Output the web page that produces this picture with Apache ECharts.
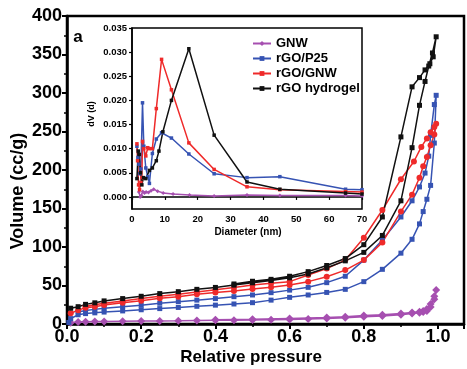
<!DOCTYPE html>
<html>
<head>
<meta charset="utf-8">
<script src="https://cdn.jsdelivr.net/npm/echarts@6/dist/echarts.min.js"></script>
<style>
  html, body { margin: 0; padding: 0; background: #fff; }
  #chart { width: 467px; height: 369px; }
</style>
</head>
<body>
<div id="chart"></div>
<script>
// ── isotherms (relative pressure -> volume, cc/g) ──────────────────────────
const gnwAdsP = [0.01,0.03,0.05,0.075,0.1,0.15,0.2,0.25,0.3,0.35,0.4,0.45,0.5,0.55,0.6,0.65,0.7,0.75,0.8,0.85,0.9,0.93,0.95,0.96,0.97,0.98,0.99,0.995];
const gnwAdsV = [1.5,2.5,3,3.2,3.4,3.6,3.8,4,4.2,4.5,4.8,5,5.3,5.6,6,6.5,7,8,9.5,10.5,12,13.5,14.5,15.5,17,22,32,44];
const gnwDesP = [0.99,0.98,0.97,0.96,0.95,0.93,0.9,0.85,0.8,0.75,0.7,0.6,0.5,0.4];
const gnwDesV = [36,26,19.5,17,16,15,13.5,12,11,9.5,8.5,7.3,6.2,5.5];

const p25AdsP = [0.005,0.01,0.03,0.05,0.075,0.1,0.15,0.2,0.25,0.3,0.35,0.4,0.45,0.5,0.55,0.6,0.65,0.7,0.75,0.8,0.85,0.9,0.93,0.95,0.96,0.97,0.98,0.99,0.995];
const p25AdsV = [2,7,12,13.5,14.5,15.5,17,18.5,20,21.5,23,24.5,26,27.7,31,34.6,37.7,41,45,55,71,92,110,130,146,162,180,235,297];
const p25DesP = [0.99,0.98,0.975,0.965,0.95,0.93,0.9,0.85,0.8,0.75,0.7,0.65,0.6,0.55,0.5,0.45,0.4,0.35,0.3,0.25,0.2,0.15,0.1,0.075,0.05,0.03];
const p25DesV = [285,245,218,196,178,160,139,109,83,62,53.7,47.6,44,40.7,37.7,35.5,33,31,29,27,24.5,22.5,20.5,19,17.5,15.5];

const rgnwAdsP = [0.01,0.03,0.05,0.075,0.1,0.15,0.2,0.25,0.3,0.35,0.4,0.45,0.5,0.55,0.6,0.65,0.7,0.75,0.8,0.85,0.9,0.93,0.95,0.96,0.97,0.98,0.99,0.995];
const rgnwAdsV = [14,18,21,22.5,24.7,27.7,30.3,33.3,35.5,38.5,41,43,45.5,47.6,50.6,55,61.4,70,83,106,146,168,190,205,217,232,246,260];
const rgnwDesP = [0.99,0.98,0.97,0.955,0.935,0.9,0.85,0.8,0.75,0.7,0.65,0.6,0.55,0.5,0.45,0.4,0.35,0.3,0.25,0.2,0.15,0.1,0.075,0.05];
const rgnwDesV = [256,249,241,230,211,188,148,112,83,72,63.6,55,52.8,50.6,47.5,44.5,41.5,38.5,36,33,30,27,25,23];

const hydAdsP = [0.01,0.03,0.05,0.075,0.1,0.15,0.2,0.25,0.3,0.35,0.4,0.45,0.5,0.55,0.6,0.65,0.7,0.75,0.8,0.85,0.9,0.93,0.95,0.965,0.975,0.985,0.995];
const hydAdsV = [20.5,22.5,25.5,27.5,30,33,36,39.5,42,45,47.5,50.5,53.5,56.5,60,65,73,82,93,115,160,229,284,315,335,352,373];
const hydDesP = [0.987,0.978,0.965,0.95,0.93,0.9,0.85,0.8,0.75,0.7,0.65,0.6,0.55,0.5,0.45];
const hydDesV = [347,338,330,320,308,243,139,103,85,76,68,62,58,55.5,52];

// ── pore size distribution inset (diameter nm -> dV) ───────────────────────
const gnwD  = [2.1,2.5,2.9,3.3,3.8,4.3,5.0,5.8,6.6,7.8,9.5,12.5,17.5,25,35,45,65,70];
const gnwDV = [0.0010,0.0000,0.0003,0.0011,0.0008,0.0010,0.0009,0.0013,0.0016,0.0012,0.0008,0.0006,0.0004,0.0002,0.0004,0.0003,0.0003,0.0002];
const p25D  = [1.5,1.8,2.1,2.4,2.7,3.2,3.6,4.2,4.8,5.3,6.2,7.4,9.0,12,17.3,25,35,45,65,70];
const p25DV = [0.0105,0.0082,0.0068,0.0048,0.0058,0.0195,0.0105,0.0060,0.0042,0.0028,0.0090,0.0120,0.0133,0.0122,0.0089,0.0048,0.0040,0.0042,0.0016,0.0015];
const rgnwD  = [1.5,1.7,2.0,2.3,2.7,3.0,3.2,3.6,4.2,4.8,5.3,6.2,7.4,9.0,12,17.3,25,35,45,65,70];
const rgnwDV = [0.0110,0.0075,0.0025,0.0015,0.0030,0.0040,0.0115,0.0100,0.0085,0.0102,0.0100,0.0100,0.0183,0.0285,0.0222,0.0112,0.0057,0.0021,0.0015,0.0011,0.0010];
const hydD  = [1.5,1.9,2.2,2.6,3.0,3.5,4.2,5.3,6.2,7.4,8.2,9.4,12,17.3,25,35,45,65,70];
const hydDV = [0.0038,0.0095,0.0088,0.0050,0.0025,0.0040,0.0038,0.0055,0.0060,0.0075,0.0095,0.0135,0.0200,0.0307,0.0128,0.0031,0.0016,0.0008,0.0006];

const names  = ['GNW', 'rGO/P25', 'rGO/GNW', 'rGO hydrogel'];
const colors = ['#a64fb0', '#3653b3', '#ef2a2a', '#111111'];
const insetYLabels = [0, 0.005, 0.01, 0.015, 0.02, 0.025, 0.03, 0.035];

const FONT = '"Liberation Sans", Arial, sans-serif';
const zip = (xs, ys) => xs.map((x, i) => [x, ys[i]]);
const loop = (ap, av, dp, dv) => zip(ap, av).concat(zip(dp, dv));

const mainData = [
  loop(gnwAdsP, gnwAdsV, gnwDesP, gnwDesV),
  loop(p25AdsP, p25AdsV, p25DesP, p25DesV),
  loop(rgnwAdsP, rgnwAdsV, rgnwDesP, rgnwDesV),
  loop(hydAdsP, hydAdsV, hydDesP, hydDesV),
];
const insetData = [zip(gnwD, gnwDV), zip(p25D, p25DV), zip(rgnwD, rgnwDV), zip(hydD, hydDV)];
const mainSymbols = [['diamond', 8], ['rect', 5], ['circle', 6], ['rect', 5]];
const insetSymbols = [['diamond', 4], ['rect', 3.5], ['rect', 3.5], ['rect', 3.5]];

const chart = echarts.init(document.getElementById('chart'), null, { renderer: 'canvas' });

const axisBase = (w) => ({
  axisLine: { lineStyle: { color: '#000', width: w } },
  axisTick: { inside: false, lineStyle: { color: '#000', width: w * 0.8 } },
  splitLine: { show: false },
});

const series = [];
names.forEach((n, i) => {
  series.push({
    name: n, type: 'line', xAxisIndex: 1, yAxisIndex: 1, data: insetData[i],
    symbol: insetSymbols[i][0], symbolSize: insetSymbols[i][1], z: 5,
    lineStyle: { color: colors[i], width: 1.5 }, itemStyle: { color: colors[i] },
    animation: false,
  });
});
names.forEach((n, i) => {
  series.push({
    name: n, type: 'line', xAxisIndex: 0, yAxisIndex: 0, data: mainData[i],
    symbol: mainSymbols[i][0], symbolSize: mainSymbols[i][1],
    lineStyle: { color: colors[i], width: 1.5 }, itemStyle: { color: colors[i] },
    animation: false,
  });
});

chart.setOption({
  backgroundColor: '#fff',
  animation: false,
  textStyle: { fontFamily: FONT },
  grid: [
    { left: 67, top: 16, right: -10, bottom: 45, show: true, borderColor: '#000', borderWidth: 2.5 },
    { left: 132, top: 28, width: 230, height: 181, show: true, backgroundColor: '#fff', borderColor: '#000', borderWidth: 1.5, z: 3 },
  ],
  xAxis: [
    { type: 'value', gridIndex: 0, min: 0, max: 1.07, interval: 0.2, ...axisBase(2.5),
      axisTick: { length: 5, lineStyle: { color: '#000', width: 2 } },
      minorTick: { show: true, splitNumber: 2, length: 3, lineStyle: { color: '#000', width: 1.5 } },
      axisLabel: { margin: 4, fontSize: 18, fontWeight: 'bold', color: '#000', fontFamily: FONT,
        formatter: (v) => (v <= 1.0001 ? v.toFixed(1) : '') } },
    { type: 'value', gridIndex: 1, min: 0, max: 70, interval: 10, ...axisBase(1.5), z: 4,
      axisTick: { length: 3, lineStyle: { color: '#000', width: 1.2 } },
      axisLabel: { margin: 5, fontSize: 9.5, fontWeight: 'bold', color: '#000', fontFamily: FONT } },
  ],
  yAxis: [
    { type: 'value', gridIndex: 0, min: 0, max: 400, interval: 50, ...axisBase(2.5),
      axisTick: { length: 5, lineStyle: { color: '#000', width: 2 } },
      minorTick: { show: true, splitNumber: 2, length: 3, lineStyle: { color: '#000', width: 1.5 } },
      axisLabel: { margin: 5, fontSize: 18, fontWeight: 'bold', color: '#000', fontFamily: FONT } },
    { type: 'value', gridIndex: 1, min: -0.0025, max: 0.035, ...axisBase(1.5), z: 4,
      axisTick: { length: 3, customValues: insetYLabels, lineStyle: { color: '#000', width: 1.2 } },
      axisLabel: { margin: 5, fontSize: 9.5, fontWeight: 'bold', color: '#000', fontFamily: FONT,
        customValues: insetYLabels, formatter: (v) => v.toFixed(3) } },
  ],
  legend: {
    data: names, orient: 'vertical', left: 252, top: 37, padding: 0,
    itemWidth: 18, itemHeight: 6, itemGap: 2,
    textStyle: { fontSize: 13, fontWeight: 'bold', color: '#000', fontFamily: FONT }, z: 6,
  },
  graphic: [
    { type: 'text', x: 78, y: 37, style: { text: 'a', fontSize: 17, fontWeight: 'bold', fontFamily: FONT, fill: '#000', align: 'center', verticalAlign: 'middle' } },
    { type: 'text', x: 18, y: 191, rotation: Math.PI / 2, style: { text: 'Volume (cc/g)', fontSize: 18, fontWeight: 'bold', fontFamily: FONT, fill: '#000', align: 'center', verticalAlign: 'middle' } },
    { type: 'text', x: 251, y: 357, style: { text: 'Relative pressure', fontSize: 17, fontWeight: 'bold', fontFamily: FONT, fill: '#000', align: 'center', verticalAlign: 'middle' } },
    { type: 'text', x: 92, y: 114, rotation: Math.PI / 2, z: 10, style: { text: 'dV (d)', fontSize: 9, fontWeight: 'bold', fontFamily: FONT, fill: '#000', align: 'center', verticalAlign: 'middle' } },
    { type: 'text', x: 248, y: 232, z: 10, style: { text: 'Diameter (nm)', fontSize: 10, fontWeight: 'bold', fontFamily: FONT, fill: '#000', align: 'center', verticalAlign: 'middle' } },
  ],
  series,
});
</script>
</body>
</html>
